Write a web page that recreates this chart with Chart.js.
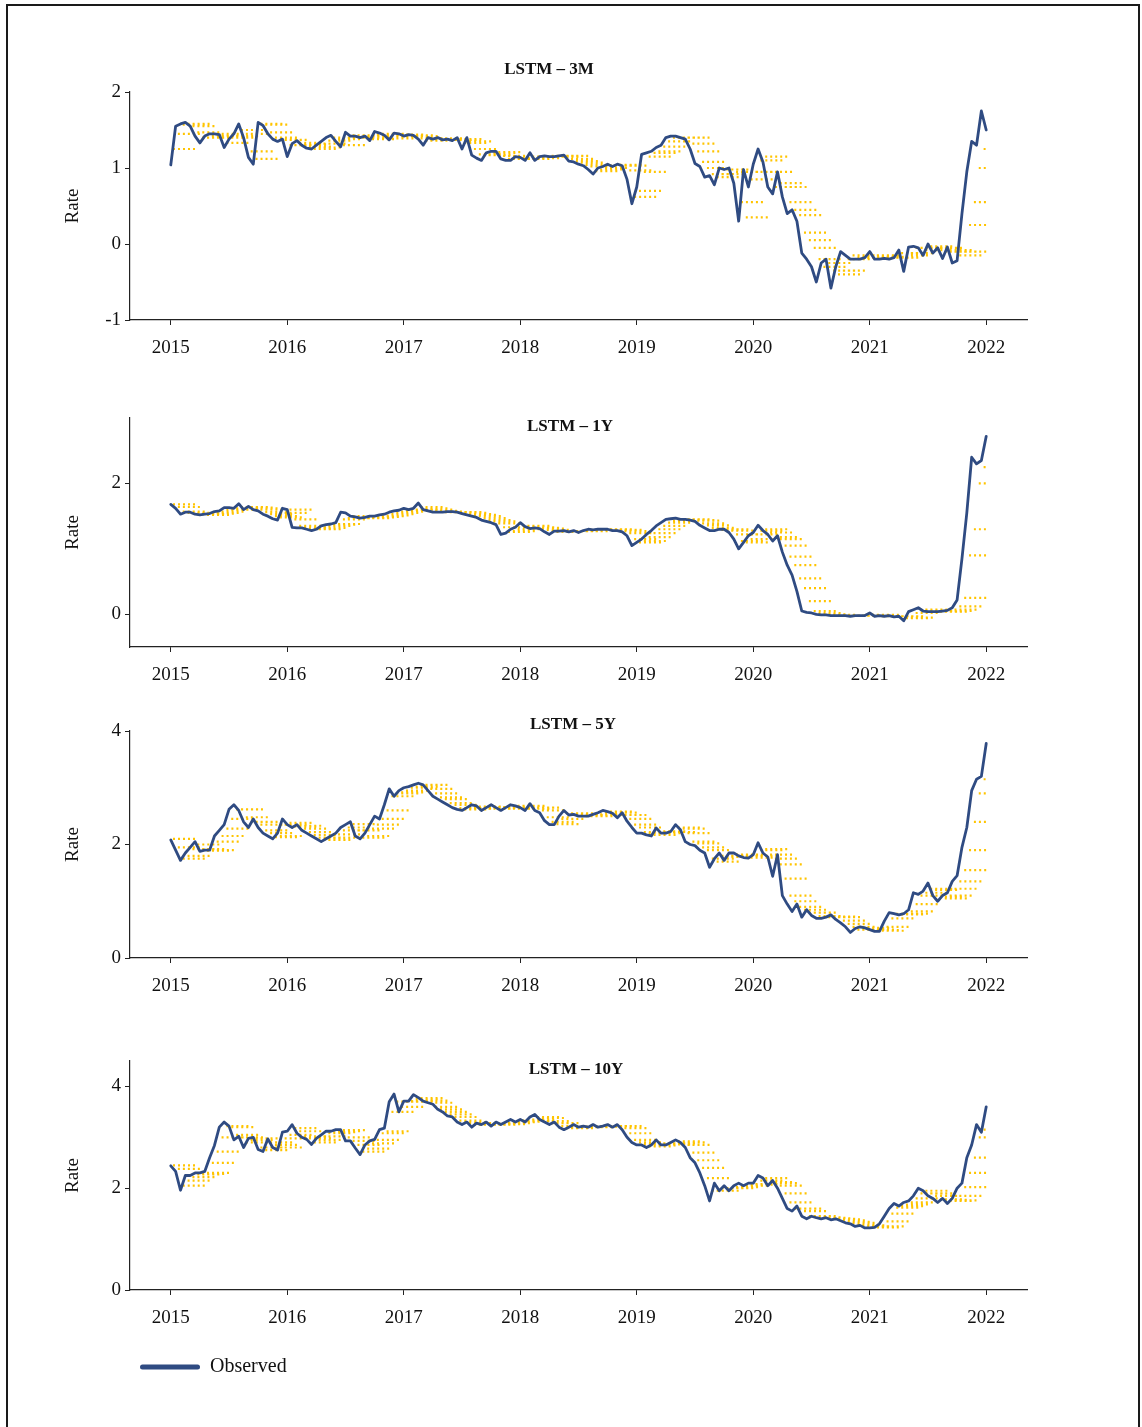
<!DOCTYPE html>
<html><head><meta charset="utf-8">
<script src="https://cdn.jsdelivr.net/npm/chart.js@4.4.1/dist/chart.umd.min.js"></script>
<style>
html,body{margin:0;padding:0;background:#fff;}
body{width:1142px;height:1427px;position:relative;overflow:hidden;}
#frame{position:absolute;left:6px;top:4px;width:1134px;height:1500px;border:2px solid #1a1a1a;box-sizing:border-box;}
.pane{position:absolute;left:0;width:1142px;}
</style></head><body>
<div id="frame"></div>
<div class="pane" style="top:0px;height:370px"><canvas id="c0"></canvas></div>
<div class="pane" style="top:370px;height:330px"><canvas id="c1"></canvas></div>
<div class="pane" style="top:700px;height:330px"><canvas id="c2"></canvas></div>
<div class="pane" style="top:1030px;height:397px"><canvas id="c3"></canvas></div>
<script>
// ---- data ----
const startYear = 2015, stepsPerYear = 24, endYear = 2022; // half-monthly observations
const xTicks = [2015, 2016, 2017, 2018, 2019, 2020, 2021, 2022];
const fcEvery = 1; // one forecast origin per observation

const obs3M = [1.04,1.55,1.58,1.60,1.55,1.42,1.33,1.42,1.45,1.45,
 1.44,1.27,1.38,1.45,1.58,1.40,1.14,1.05,1.60,1.56,
 1.45,1.38,1.35,1.38,1.15,1.32,1.36,1.30,1.26,1.25,
 1.30,1.35,1.40,1.43,1.35,1.28,1.47,1.42,1.42,1.40,
 1.42,1.36,1.48,1.46,1.43,1.37,1.46,1.45,1.42,1.44,
 1.43,1.38,1.30,1.40,1.38,1.40,1.37,1.38,1.36,1.40,
 1.25,1.40,1.17,1.13,1.10,1.20,1.22,1.22,1.12,1.10,
 1.10,1.15,1.14,1.10,1.20,1.10,1.15,1.16,1.15,1.15,
 1.16,1.17,1.09,1.08,1.05,1.03,0.98,0.92,1.00,1.02,
 1.05,1.02,1.05,1.03,0.85,0.53,0.75,1.18,1.20,1.22,
 1.27,1.30,1.40,1.42,1.42,1.40,1.38,1.25,1.06,1.02,
 0.88,0.90,0.78,1.00,0.98,1.00,0.80,0.30,0.98,0.75,
 1.05,1.25,1.08,0.75,0.66,0.95,0.62,0.40,0.45,0.30,
 -0.12,-0.20,-0.30,-0.50,-0.25,-0.20,-0.58,-0.30,-0.10,-0.15,
 -0.20,-0.20,-0.20,-0.18,-0.10,-0.20,-0.20,-0.19,-0.20,-0.18,
 -0.08,-0.36,-0.04,-0.03,-0.05,-0.15,0.00,-0.12,-0.05,-0.19,
 -0.04,-0.25,-0.22,0.40,0.95,1.35,1.30,1.75,1.50];
const fc3M = [1.25,1.45,1.57,1.58,1.55,1.47,1.40,1.40,1.42,1.45,
 1.43,1.33,1.40,1.42,1.50,1.45,1.22,1.12,1.58,1.57,
 1.47,1.40,1.37,1.37,1.30,1.30,1.33,1.31,1.28,1.25,
 1.27,1.32,1.36,1.40,1.38,1.30,1.40,1.43,1.42,1.40,
 1.41,1.38,1.44,1.45,1.43,1.39,1.42,1.44,1.42,1.43,
 1.42,1.39,1.36,1.37,1.38,1.39,1.38,1.37,1.37,1.38,
 1.33,1.35,1.25,1.18,1.17,1.17,1.20,1.21,1.16,1.12,
 1.12,1.13,1.13,1.12,1.15,1.13,1.15,1.15,1.16,1.15,
 1.16,1.16,1.12,1.09,1.07,1.04,1.02,0.96,0.98,1.00,
 1.03,1.03,1.04,1.03,0.97,0.62,0.70,0.95,1.15,1.20,
 1.22,1.28,1.35,1.40,1.40,1.40,1.40,1.32,1.22,1.08,
 1.00,0.92,0.88,0.92,0.98,0.98,0.95,0.55,0.35,0.85,
 0.95,1.10,1.15,0.95,0.75,0.80,0.75,0.55,0.45,0.38,
 0.15,0.05,-0.05,-0.20,-0.30,-0.25,-0.35,-0.40,-0.35,-0.20,
 -0.15,-0.18,-0.18,-0.18,-0.15,-0.15,-0.17,-0.18,-0.18,-0.18,
 -0.12,-0.15,-0.12,-0.05,-0.05,-0.08,-0.03,-0.05,-0.05,-0.10,
 -0.08,-0.10,-0.15,-0.10,0.25,0.55,1.00,1.25];

const obs1Y = [1.68,1.62,1.53,1.56,1.56,1.53,1.52,1.53,1.54,1.57,
 1.58,1.63,1.63,1.62,1.69,1.60,1.65,1.60,1.58,1.53,
 1.50,1.46,1.44,1.62,1.60,1.33,1.32,1.32,1.30,1.28,
 1.30,1.35,1.37,1.38,1.40,1.56,1.55,1.50,1.49,1.47,
 1.48,1.50,1.50,1.52,1.53,1.56,1.58,1.59,1.62,1.60,
 1.62,1.70,1.60,1.58,1.56,1.56,1.56,1.57,1.57,1.56,
 1.54,1.52,1.50,1.48,1.44,1.42,1.40,1.37,1.22,1.24,
 1.30,1.33,1.40,1.34,1.31,1.32,1.31,1.26,1.22,1.27,
 1.27,1.28,1.26,1.28,1.25,1.28,1.30,1.29,1.30,1.30,
 1.30,1.28,1.28,1.26,1.20,1.05,1.10,1.15,1.22,1.28,
 1.35,1.40,1.45,1.46,1.47,1.45,1.45,1.44,1.42,1.36,
 1.32,1.28,1.28,1.30,1.30,1.25,1.15,1.00,1.10,1.20,
 1.25,1.36,1.28,1.22,1.12,1.20,0.95,0.75,0.60,0.35,
 0.05,0.03,0.02,0.00,-0.01,-0.01,-0.02,-0.02,-0.02,-0.02,
 -0.03,-0.02,-0.02,-0.02,0.02,-0.03,-0.02,-0.03,-0.02,-0.04,
 -0.03,-0.10,0.04,0.07,0.10,0.05,0.04,0.04,0.04,0.05,
 0.06,0.10,0.22,0.85,1.55,2.40,2.30,2.35,2.72];
const fc1Y = [1.68,1.64,1.57,1.55,1.55,1.54,1.53,1.52,1.54,1.55,
 1.57,1.60,1.60,1.62,1.64,1.64,1.63,1.62,1.60,1.56,
 1.53,1.50,1.48,1.55,1.60,1.45,1.35,1.33,1.31,1.30,
 1.30,1.32,1.35,1.37,1.38,1.45,1.47,1.50,1.48,1.47,
 1.47,1.48,1.49,1.50,1.51,1.53,1.55,1.57,1.58,1.60,
 1.60,1.64,1.62,1.60,1.58,1.57,1.56,1.56,1.56,1.56,
 1.55,1.53,1.52,1.50,1.47,1.44,1.42,1.39,1.33,1.26,
 1.27,1.30,1.35,1.35,1.33,1.32,1.31,1.29,1.27,1.26,
 1.27,1.27,1.27,1.27,1.27,1.27,1.29,1.29,1.30,1.30,
 1.30,1.29,1.29,1.27,1.24,1.15,1.10,1.12,1.18,1.24,
 1.30,1.35,1.40,1.43,1.45,1.45,1.45,1.44,1.43,1.39,
 1.36,1.32,1.30,1.29,1.30,1.28,1.22,1.12,1.10,1.15,
 1.22,1.28,1.30,1.25,1.18,1.15,1.05,0.88,0.75,0.55,
 0.40,0.20,0.05,0.02,0.00,-0.01,-0.01,-0.02,-0.02,-0.02,
 -0.02,-0.02,-0.02,-0.02,-0.01,-0.01,-0.03,-0.03,-0.03,-0.03,
 -0.03,-0.06,-0.05,0.02,0.06,0.07,0.05,0.04,0.04,0.04,
 0.05,0.07,0.12,0.25,0.90,1.30,2.00,2.25];

const obs5Y = [2.08,1.90,1.72,1.85,1.95,2.05,1.88,1.90,1.90,2.15,
 2.25,2.35,2.62,2.70,2.60,2.40,2.30,2.45,2.30,2.20,
 2.15,2.10,2.20,2.45,2.35,2.30,2.35,2.25,2.20,2.15,
 2.10,2.05,2.10,2.15,2.20,2.30,2.35,2.40,2.15,2.10,
 2.20,2.35,2.50,2.45,2.70,2.98,2.85,2.95,3.00,3.02,
 3.05,3.08,3.05,2.95,2.85,2.80,2.75,2.70,2.65,2.62,
 2.60,2.65,2.70,2.68,2.60,2.65,2.70,2.65,2.60,2.65,
 2.70,2.68,2.65,2.60,2.72,2.60,2.56,2.42,2.35,2.35,
 2.50,2.60,2.52,2.53,2.50,2.50,2.50,2.53,2.56,2.60,
 2.58,2.55,2.47,2.56,2.41,2.30,2.20,2.20,2.17,2.15,
 2.29,2.20,2.20,2.23,2.35,2.26,2.05,2.00,1.98,1.90,
 1.85,1.60,1.75,1.85,1.72,1.85,1.85,1.80,1.77,1.76,
 1.82,2.03,1.85,1.78,1.44,1.82,1.10,0.95,0.82,0.95,
 0.72,0.85,0.75,0.70,0.70,0.72,0.76,0.68,0.62,0.55,
 0.45,0.52,0.55,0.53,0.50,0.47,0.47,0.65,0.80,0.78,
 0.76,0.78,0.85,1.15,1.12,1.18,1.32,1.10,1.00,1.10,
 1.15,1.35,1.45,1.95,2.30,2.95,3.15,3.20,3.78];
const fc5Y = [2.10,1.95,1.75,1.80,1.92,2.00,1.92,1.89,1.90,2.05,
 2.15,2.28,2.45,2.62,2.62,2.48,2.40,2.40,2.35,2.25,
 2.20,2.13,2.15,2.35,2.38,2.32,2.33,2.28,2.22,2.17,
 2.12,2.08,2.08,2.12,2.18,2.25,2.30,2.36,2.25,2.12,
 2.15,2.28,2.35,2.45,2.60,2.85,2.90,2.92,2.95,3.00,
 3.02,3.05,3.05,2.98,2.90,2.83,2.80,2.73,2.70,2.64,
 2.62,2.63,2.65,2.67,2.65,2.63,2.65,2.66,2.65,2.63,
 2.65,2.68,2.68,2.63,2.65,2.65,2.60,2.48,2.40,2.36,
 2.45,2.55,2.55,2.53,2.52,2.50,2.50,2.52,2.53,2.57,
 2.58,2.56,2.52,2.52,2.45,2.35,2.30,2.22,2.20,2.17,
 2.20,2.23,2.22,2.22,2.30,2.28,2.20,2.05,2.02,1.95,
 1.90,1.75,1.70,1.80,1.78,1.80,1.82,1.82,1.80,1.77,
 1.80,1.90,1.92,1.82,1.75,1.65,1.40,1.10,1.00,0.90,
 0.85,0.80,0.80,0.74,0.72,0.72,0.73,0.72,0.66,0.60,
 0.55,0.50,0.50,0.53,0.50,0.49,0.48,0.55,0.70,0.78,
 0.77,0.78,0.82,0.95,1.10,1.15,1.22,1.20,1.08,1.05,
 1.10,1.22,1.35,1.55,1.90,2.40,2.90,3.15];

const obs10Y = [2.44,2.33,1.96,2.25,2.25,2.30,2.30,2.33,2.60,2.84,
 3.20,3.30,3.22,2.95,3.02,2.80,2.98,3.00,2.76,2.72,
 2.97,2.80,2.75,3.10,3.12,3.25,3.08,3.00,2.96,2.86,
 2.98,3.05,3.12,3.12,3.15,3.15,2.93,2.93,2.79,2.66,
 2.85,2.93,2.96,3.15,3.18,3.70,3.85,3.50,3.71,3.71,
 3.84,3.78,3.71,3.68,3.65,3.55,3.50,3.42,3.40,3.30,
 3.25,3.30,3.20,3.28,3.25,3.30,3.22,3.30,3.25,3.30,
 3.35,3.30,3.35,3.30,3.40,3.45,3.35,3.30,3.25,3.30,
 3.20,3.15,3.20,3.25,3.20,3.22,3.20,3.25,3.20,3.22,
 3.25,3.20,3.25,3.15,3.00,2.90,2.85,2.85,2.80,2.85,
 2.95,2.85,2.85,2.90,2.95,2.90,2.80,2.60,2.50,2.30,
 2.05,1.75,2.10,1.95,2.05,1.95,2.05,2.10,2.05,2.10,
 2.10,2.25,2.20,2.05,2.15,2.00,1.80,1.60,1.55,1.65,
 1.45,1.40,1.45,1.42,1.40,1.42,1.38,1.40,1.36,1.32,
 1.30,1.25,1.27,1.22,1.22,1.23,1.30,1.45,1.60,1.70,
 1.65,1.72,1.75,1.85,2.00,1.95,1.85,1.80,1.72,1.80,
 1.70,1.80,2.00,2.10,2.60,2.85,3.25,3.10,3.60];
const fc10Y = [2.45,2.38,2.05,2.15,2.22,2.27,2.28,2.30,2.50,2.72,
 3.00,3.22,3.20,3.05,3.00,2.90,2.95,2.98,2.80,2.75,
 2.90,2.85,2.80,2.98,3.05,3.18,3.12,3.02,2.98,2.90,
 2.95,3.02,3.08,3.10,3.12,3.14,3.00,2.93,2.85,2.72,
 2.78,2.88,2.95,3.08,3.12,3.50,3.70,3.60,3.70,3.71,
 3.75,3.77,3.72,3.68,3.60,3.55,3.50,3.45,3.40,3.33,
 3.30,3.28,3.25,3.25,3.25,3.27,3.25,3.27,3.26,3.28,
 3.30,3.31,3.33,3.32,3.35,3.40,3.38,3.32,3.28,3.28,
 3.22,3.18,3.18,3.21,3.20,3.21,3.20,3.22,3.21,3.22,
 3.22,3.22,3.22,3.18,3.08,2.95,2.90,2.86,2.82,2.84,
 2.88,2.88,2.86,2.88,2.92,2.90,2.85,2.70,2.55,2.40,
 2.20,1.95,1.95,2.00,2.00,2.00,2.02,2.05,2.05,2.07,
 2.08,2.15,2.20,2.12,2.10,2.05,1.90,1.72,1.60,1.60,
 1.55,1.45,1.45,1.43,1.42,1.41,1.40,1.39,1.37,1.34,
 1.32,1.28,1.27,1.25,1.23,1.23,1.25,1.35,1.50,1.62,
 1.65,1.68,1.72,1.80,1.90,1.95,1.90,1.85,1.78,1.77,
 1.75,1.76,1.85,2.02,2.30,2.60,3.00,3.15];

const titles = ['LSTM – 3M', 'LSTM – 1Y', 'LSTM – 5Y', 'LSTM – 10Y'];
const yTicks3M = [-1, 0, 1, 2];
const yTicks1Y = [0, 2];
const yTicks5Y = [0, 2, 4];
const yTicks10Y = [0, 2, 4];
const yLabel = 'Rate';
const obsLabel = 'Observed';
const fcLabel = 'Forecast';

// ---- style / layout ----
const NAVY = '#2f4b82', GOLD = '#ffc400', INK = '#111111';
const SERIF = '"Liberation Serif", "Times New Roman", serif';
const fcLag = 1 / 52, fcHorizon = 12 / 52;

Chart.defaults.font.family = SERIF;
Chart.defaults.color = INK;

const titlePlugin = {
  id: 'panelTitle',
  afterDraw(chart, args, opts) {
    const ctx = chart.ctx;
    ctx.save();
    ctx.font = 'bold 17px ' + SERIF;
    ctx.fillStyle = INK;
    ctx.textAlign = 'center';
    ctx.textBaseline = 'middle';
    ctx.fillText(opts.text, opts.x, opts.y);
    ctx.restore();
  }
};

function obsPoints(arr) {
  return arr.map((v, k) => ({ x: startYear + k / stepsPerYear, y: v }));
}
function fcPoints(arr) {
  const pts = [];
  arr.forEach((v, i) => {
    const t0 = startYear + (i * fcEvery) / stepsPerYear;
    const a = t0 + fcLag, b = Math.min(t0 + fcHorizon, endYear);
    if (b <= a) return;
    pts.push({ x: a, y: v }, { x: b, y: v }, { x: b, y: null });
  });
  return pts;
}

function makeChart(id, obs, fc, yTicks, yMin, yMax, title, lay) {
  const tickFont = { family: SERIF, size: 19 };
  const legendOn = !!lay.legend;
  return new Chart(document.getElementById(id), {
    type: 'line',
    data: {
      datasets: [
        { label: obsLabel, data: obsPoints(obs), borderColor: NAVY, backgroundColor: NAVY,
          borderWidth: 2.8, pointRadius: 0, tension: 0, borderJoinStyle: 'round', borderCapStyle: 'round' },
        { label: fcLabel, data: fcPoints(fc), borderColor: GOLD, backgroundColor: GOLD,
          borderWidth: 2.2, borderDash: [2, 3], pointRadius: 0, tension: 0, spanGaps: false }
      ]
    },
    options: {
      responsive: true, maintainAspectRatio: false, animation: false, devicePixelRatio: 1,
      layout: { padding: { left: 62, right: 115, top: lay.top, bottom: lay.bottom } },
      plugins: {
        tooltip: { enabled: false },
        panelTitle: { text: title, x: lay.tx, y: lay.ty },
        legend: legendOn ? {
          display: true, position: 'bottom', align: 'start', fullSize: false,
          labels: {
            font: { family: SERIF, size: 20 }, color: INK, boxWidth: 60, boxHeight: 5, padding: 10,
            generateLabels(chart) {
              const items = Chart.defaults.plugins.legend.labels.generateLabels(chart);
              return items.filter(it => it.datasetIndex === 0)
                .map(it => Object.assign(it, { lineWidth: 0, borderRadius: 2.5, fillStyle: NAVY }));
            }
          }
        } : { display: false }
      },
      scales: {
        x: {
          type: 'linear', min: 2014.65, max: 2022.35,
          afterBuildTicks: s => { s.ticks = xTicks.map(v => ({ value: v })); },
          afterFit: s => { s.height = lay.xh; },
          ticks: { font: tickFont, color: INK, padding: 12, maxRotation: 0, callback: v => String(v) },
          grid: { display: true, drawOnChartArea: false, drawTicks: true, tickLength: 5, color: '#222', lineWidth: 1 },
          border: { display: true, color: '#222', width: 1.2 }
        },
        y: {
          type: 'linear', min: yMin, max: yMax,
          afterBuildTicks: s => { s.ticks = yTicks.map(v => ({ value: v })); },
          afterFit: s => { s.width = 68; },
          ticks: { font: tickFont, color: INK, padding: 4, callback: v => String(v) },
          grid: { display: true, drawOnChartArea: false, drawTicks: true, tickLength: 5, color: '#222', lineWidth: 1 },
          border: { display: true, color: '#222', width: 1.2 },
          title: { display: true, text: yLabel, font: { family: SERIF, size: 19 }, color: INK, padding: 0 }
        }
      }
    },
    plugins: [titlePlugin]
  });
}

makeChart('c0', obs3M, fc3M, yTicks3M, -1, 2, titles[0], { top: 92, bottom: 10, xh: 40, tx: 549, ty: 70 });
makeChart('c1', obs1Y, fc1Y, yTicks1Y, -0.5, 3, titles[1], { top: 48, bottom: 13, xh: 40, tx: 570, ty: 57 });
makeChart('c2', obs5Y, fc5Y, yTicks5Y, 0, 4, titles[2], { top: 31, bottom: 32, xh: 40, tx: 573, ty: 25 });
makeChart('c3', obs10Y, fc10Y, yTicks10Y, 0, 4.5, titles[3], { top: 31, bottom: 40, xh: 57, tx: 576, ty: 40, legend: true });
</script>
</body></html>
